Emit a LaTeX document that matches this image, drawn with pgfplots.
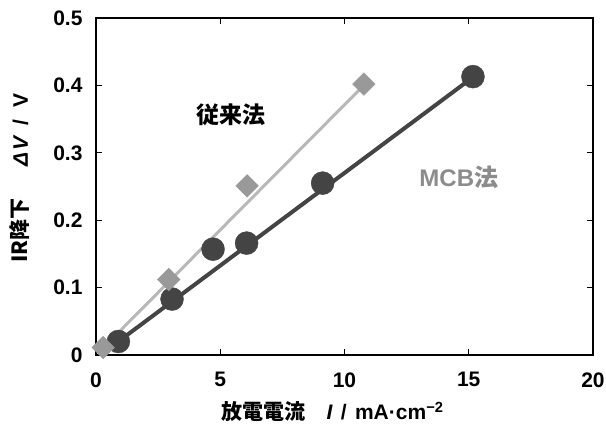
\documentclass[border=0pt]{standalone}
\usepackage{fontspec}
\setmainfont{Liberation Sans}
\newfontfamily\jp{Noto Sans CJK JP}
\usepackage{pgfplots}
\pgfplotsset{compat=1.18}
\definecolor{darkc}{HTML}{444444}
\definecolor{diam}{HTML}{999999}
\definecolor{lightl}{HTML}{B8B8B8}
\definecolor{mcb}{HTML}{8C8C8C}
\begin{document}
\begin{tikzpicture}
\useasboundingbox (-96pt,-80pt) rectangle (510pt,355pt);
\begin{axis}[
  at={(0,0)}, anchor=south west,
  width=497pt, height=337pt, scale only axis,
  xmin=0, xmax=20, ymin=0, ymax=0.5,
  xtick={0,5,10,15,20}, ytick={0,0.1,0.2,0.3,0.4,0.5},
  yticklabel style={/pgf/number format/fixed, /pgf/number format/precision=1, xshift=-10pt},
  xticklabel style={yshift=-14pt},
  tick align=inside, major tick length=6pt,
  axis line style={line width=2.5pt},
  tick style={line width=1pt, black},
  ticklabel style={font=\bfseries\fontsize{21}{24}\selectfont},
  /pgf/number format/assume math mode=true,
  clip=false,
]
% fitted lines
\addplot[lightl, line width=3pt, no markers] coordinates {(0.3,0.011) (10.8,0.401)};
\addplot[darkc, line width=4pt, no markers] coordinates {(0.9,0.020) (15.2,0.413)};
% MCB (dark circles)
\addplot[only marks, mark=*, mark size=11.5pt, mark options={fill=darkc, draw=darkc}] coordinates {
  (0.9,0.020) (3.06,0.083) (4.71,0.157) (6.06,0.166) (9.12,0.255) (15.17,0.413)};
% conventional (diamonds)
\addplot[only marks, mark=square*, mark size=8pt, mark options={fill=diam, draw=diam, rotate=45}] coordinates {
  (0.29,0.011) (2.93,0.112) (6.08,0.251) (10.78,0.402)};
\node[font=\jp\bfseries\fontsize{23}{26}\selectfont] at (axis cs:5.45,0.357) {従来法};
\node[font=\bfseries\fontsize{24}{27}\selectfont, text=mcb] at (axis cs:14.6,0.263) {MCB{\jp 法}};
\node[font=\bfseries\fontsize{21}{24}\selectfont, rotate=90] at ([xshift=-76pt]rel axis cs:0,0.525) {{\jp IR降下}\hspace{1.5em}{\itshape Δ\hspace{0.1em}V}\hspace{0.55em}/\hspace{0.55em}V};
\node[font=\bfseries\fontsize{21}{24}\selectfont] at ([yshift=-57pt]rel axis cs:0.476,0) {{\jp 放電電流}\hspace{1em}{\itshape I}\hspace{0.4em}/\hspace{0.4em}mA·cm\textsuperscript{−2}};
\end{axis}
\end{tikzpicture}
\end{document}
